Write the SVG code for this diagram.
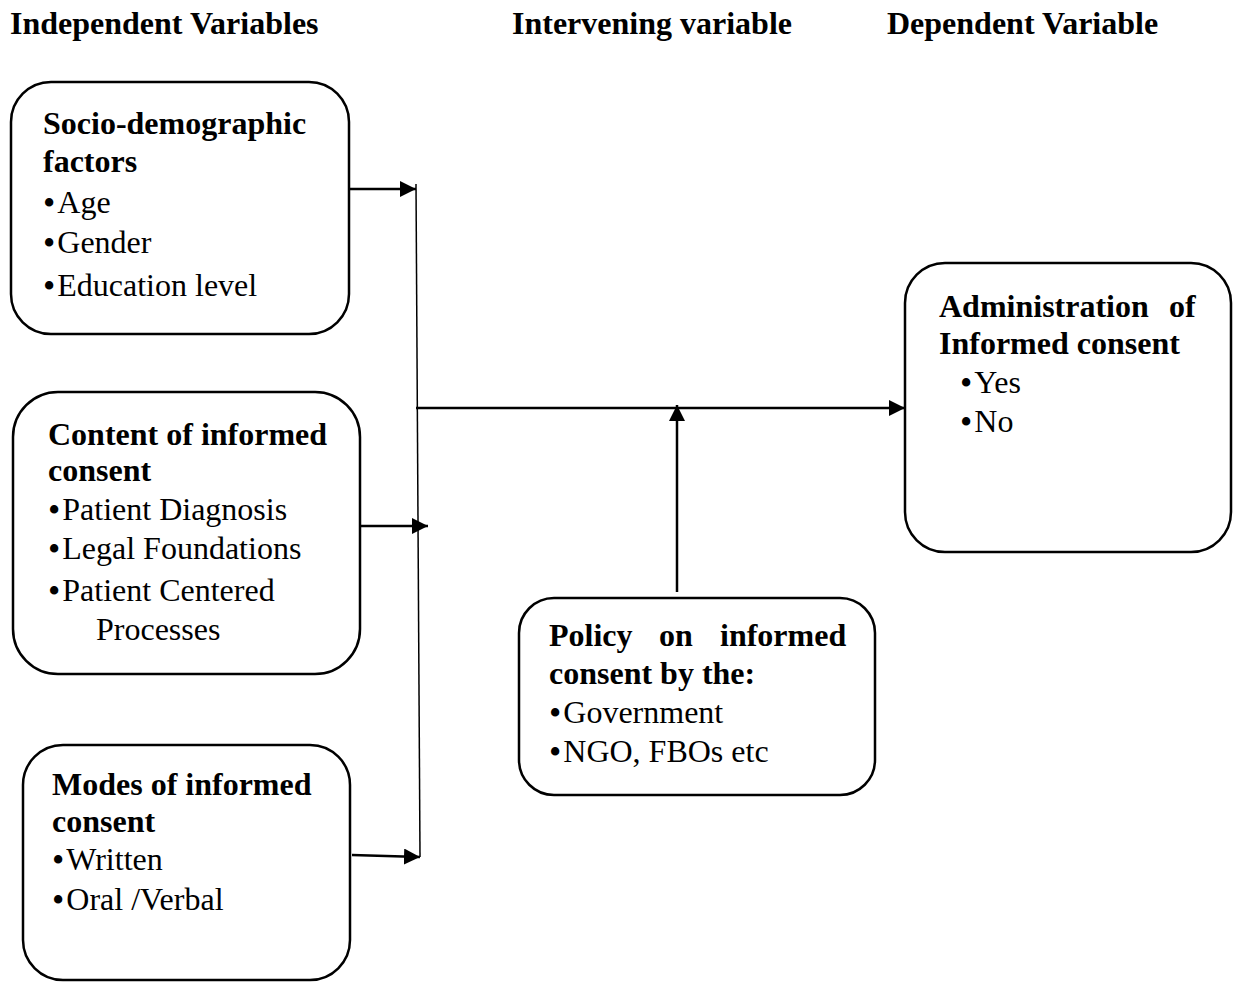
<svg xmlns="http://www.w3.org/2000/svg" width="1238" height="982" viewBox="0 0 1238 982">
<style>
text { font-family: "Liberation Serif", "Times New Roman", serif; font-size: 32px; fill: #000; }
.b { font-weight: bold; }
.bu { font-size: 35px; }
.box { fill: #fff; stroke: #000; stroke-width: 2.5; }
.con { stroke: #000; stroke-width: 2.5; fill: none; }
.thin { stroke: #000; stroke-width: 1.5; fill: none; }
</style>
<defs>
<marker id="ah" viewBox="0 0 16 16" refX="16" refY="8" markerWidth="16" markerHeight="16" markerUnits="userSpaceOnUse" orient="auto">
<path d="M0,0 L16,8 L0,16 Z" fill="#000"/>
</marker>
</defs>
<rect width="1238" height="982" fill="#fff"/>

<g id="headers">
<text class="b" x="10" y="34">Independent Variables</text>
<text class="b" x="512" y="34">Intervening variable</text>
<text class="b" x="887" y="34">Dependent Variable</text>
</g>

<g id="connectors">
<line class="thin" x1="416" y1="184" x2="420" y2="857"/>
<line class="con" x1="349" y1="189" x2="416" y2="189" marker-end="url(#ah)"/>
<line class="con" x1="360" y1="526" x2="428" y2="526" marker-end="url(#ah)"/>
<line class="con" x1="352" y1="855" x2="420" y2="857" marker-end="url(#ah)"/>
<line class="con" x1="416" y1="408" x2="905" y2="408" marker-end="url(#ah)"/>
<line class="con" x1="677" y1="592" x2="677" y2="405" marker-end="url(#ah)"/>
</g>

<g id="node-socio">
<rect class="box" x="11" y="82" width="338" height="252" rx="40"/>
<text class="b" x="43" y="134">Socio-demographic</text>
<text class="b" x="43" y="172">factors</text>
<text x="43" y="213"><tspan class="bu" dy="2">•</tspan><tspan dx="2" dy="-2">Age</tspan></text>
<text x="43" y="253"><tspan class="bu" dy="2">•</tspan><tspan dx="2" dy="-2">Gender</tspan></text>
<text x="43" y="296"><tspan class="bu" dy="2">•</tspan><tspan dx="2" dy="-2">Education level</tspan></text>
</g>

<g id="node-content">
<rect class="box" x="13" y="392" width="347" height="282" rx="45"/>
<text class="b" x="48" y="445">Content of informed</text>
<text class="b" x="48" y="481">consent</text>
<text x="48" y="520"><tspan class="bu" dy="2">•</tspan><tspan dx="2" dy="-2">Patient Diagnosis</tspan></text>
<text x="48" y="559"><tspan class="bu" dy="2">•</tspan><tspan dx="2" dy="-2">Legal Foundations</tspan></text>
<text x="48" y="601"><tspan class="bu" dy="2">•</tspan><tspan dx="2" dy="-2">Patient Centered</tspan></text>
<text x="96" y="640">Processes</text>
</g>

<g id="node-modes">
<rect class="box" x="23" y="745" width="327" height="235" rx="40"/>
<text class="b" x="52" y="795">Modes of informed</text>
<text class="b" x="52" y="832">consent</text>
<text x="52" y="870"><tspan class="bu" dy="2">•</tspan><tspan dx="2" dy="-2">Written</tspan></text>
<text x="52" y="910"><tspan class="bu" dy="2">•</tspan><tspan dx="2" dy="-2">Oral /Verbal</tspan></text>
</g>

<g id="node-policy">
<rect class="box" x="519" y="598" width="356" height="197" rx="35"/>
<text class="b" y="646"><tspan x="549">Policy</tspan><tspan x="659">on</tspan><tspan x="720">informed</tspan></text>
<text class="b" x="549" y="684">consent by the:</text>
<text x="549" y="723"><tspan class="bu" dy="2">•</tspan><tspan dx="2" dy="-2">Government</tspan></text>
<text x="549" y="762"><tspan class="bu" dy="2">•</tspan><tspan dx="2" dy="-2">NGO, FBOs etc</tspan></text>
</g>

<g id="node-admin">
<rect class="box" x="905" y="263" width="326" height="289" rx="40"/>
<text class="b" y="317"><tspan x="939">Administration</tspan><tspan x="1169">of</tspan></text>
<text class="b" x="939" y="354">Informed consent</text>
<text x="960" y="393"><tspan class="bu" dy="2">•</tspan><tspan dx="2" dy="-2">Yes</tspan></text>
<text x="960" y="432"><tspan class="bu" dy="2">•</tspan><tspan dx="2" dy="-2">No</tspan></text>
</g>
</svg>
